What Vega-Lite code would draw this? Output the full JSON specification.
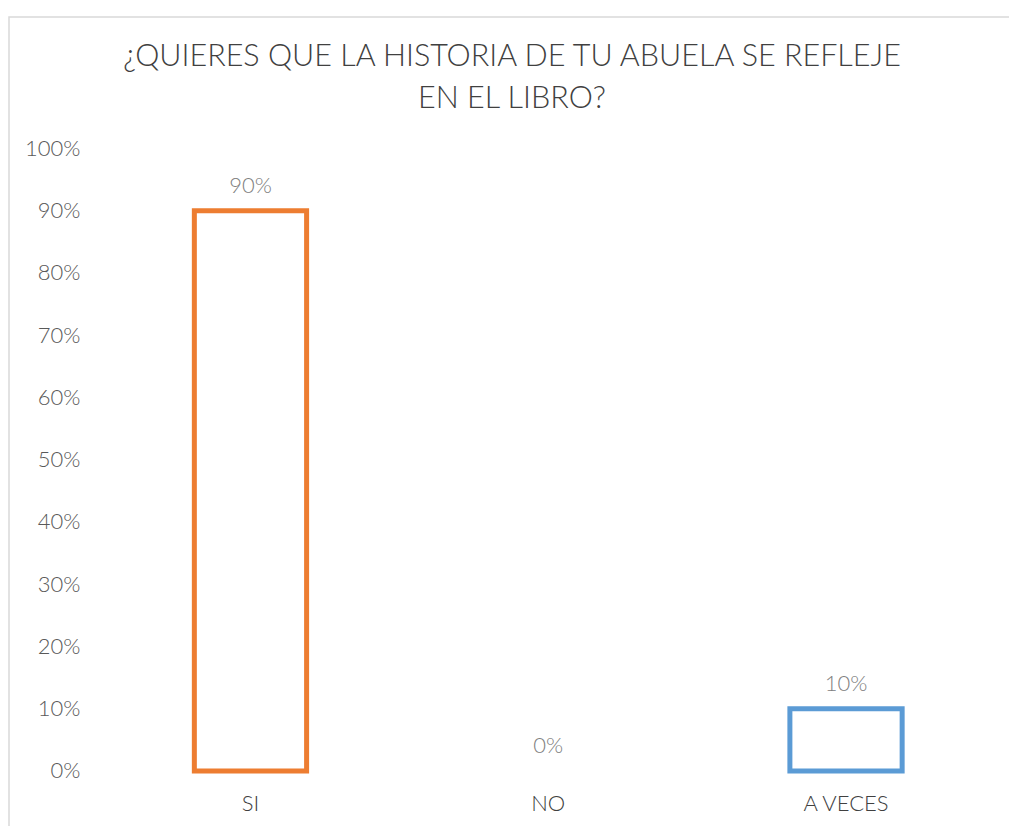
{
  "$schema": "https://vega.github.io/schema/vega-lite/v6.json",
  "width": 1002,
  "height": 811,
  "autosize": {"type": "none"},
  "padding": {"left": 9, "top": 17, "right": 0, "bottom": 0},
  "background": "white",
  "config": {"view": {"stroke": "#d9d9d9", "strokeWidth": 1.5}, "font": "Lato"},
  "title": {
    "text": ["¿QUIERES QUE LA HISTORIA DE TU ABUELA SE REFLEJE", "EN EL LIBRO?"],
    "fontSize": 30.5,
    "fontWeight": 300,
    "color": "#404040",
    "lineHeight": 42,
    "anchor": "middle",
    "offset": -97,
    "dx": 2
  },
  "data": {
    "values": [
      {"respuesta": "SI", "valor": 0.9},
      {"respuesta": "NO", "valor": 0},
      {"respuesta": "A VECES", "valor": 0.1}
    ]
  },
  "encoding": {
    "x": {
      "field": "respuesta",
      "type": "nominal",
      "sort": ["SI", "NO", "A VECES"],
      "scale": {"domain": ["SI", "NO", "A VECES"], "paddingInner": 0.623, "paddingOuter": 0.494, "align": 0.63},
      "axis": {
        "title": null,
        "orient": "bottom",
        "offset": -57,
        "ticks": false,
        "domain": false,
        "labelPadding": 22,
        "labelFontSize": 22,
        "labelColor": "#404040",
        "labelAngle": 0,
        "labelFontWeight": 300
      }
    },
    "y": {
      "field": "valor",
      "type": "quantitative",
      "scale": {"domain": [-0.09157, 1.21124], "nice": false, "zero": false},
      "axis": {
        "title": null,
        "values": [0, 0.1, 0.2, 0.3, 0.4, 0.5, 0.6, 0.7, 0.8, 0.9, 1],
        "format": ".0%",
        "grid": false,
        "domain": false,
        "ticks": false,
        "offset": -71,
        "labelPadding": 0,
        "labelFontSize": 22,
        "labelColor": "#595959",
        "labelFontWeight": 300
      }
    }
  },
  "layer": [
    {
      "transform": [{"filter": "datum.valor > 0"}],
      "mark": {"type": "bar", "fill": "white", "strokeWidth": 5},
      "encoding": {
        "y2": {"datum": 0},
        "stroke": {
          "field": "respuesta",
          "type": "nominal",
          "scale": {"domain": ["SI", "NO", "A VECES"], "range": ["#ED7D31", "#A5A5A5", "#5B9BD5"]},
          "legend": null
        }
      }
    },
    {
      "mark": {"type": "text", "baseline": "middle", "dy": -25, "fontSize": 22, "fontWeight": 300, "color": "#808080"},
      "encoding": {"text": {"field": "valor", "type": "quantitative", "format": ".0%"}}
    }
  ]
}
